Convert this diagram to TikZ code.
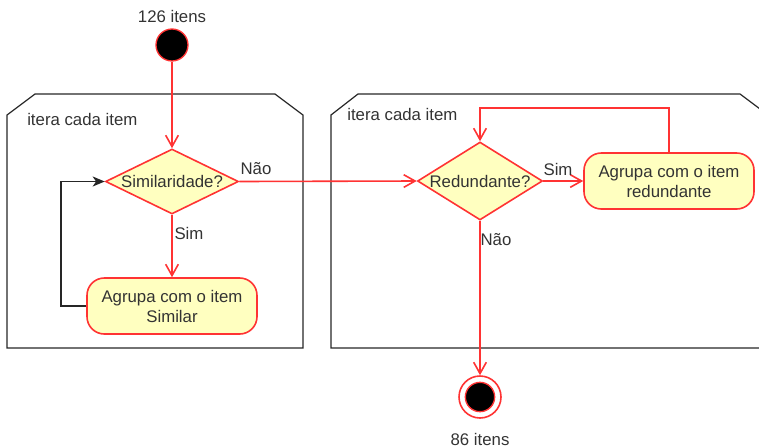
\documentclass[tikz,border=0pt]{standalone}
\usepackage{fontspec}
\setmainfont{Liberation Sans}
\usetikzlibrary{shapes.geometric,arrows.meta}
\definecolor{umlred}{HTML}{FF3333}
\definecolor{umlfill}{HTML}{FFFFC0}
\definecolor{txt}{HTML}{333333}
\tikzset{
  every node/.style={text=txt,font=\fontsize{12.6}{15}\selectfont},
  frame/.style={draw=black!85,line width=0.9pt},
  decision/.style={diamond,draw=umlred,fill=umlfill,line width=1.2pt,inner sep=0pt,aspect=1},
  action/.style={rectangle,draw=umlred,fill=umlfill,line width=1.2pt,rounded corners=13pt,
    minimum width=127.5pt,minimum height=42pt,align=center,inner sep=0pt},
  flow/.style={draw=umlred,line width=1.2pt,-{Straight Barb[length=8.5pt,width=9.5pt]}},
  back/.style={draw=black!85,line width=1.1pt,-{Stealth[length=9pt,width=7.5pt,inset=2.5pt]}},
  lbl/.style={inner sep=0pt}
}
\begin{document}
\begin{tikzpicture}[x=0.75pt,y=-0.75pt]
\useasboundingbox (0,0) rectangle (759,447);
\clip (0,0) rectangle (759,447);
% frames
\draw[frame] (7,115) -- (35,94) -- (275,94) -- (303,115) -- (303,348) -- (7,348) -- cycle;
\draw[frame] (331,115) -- (358,94) -- (740,94) -- (768,115) -- (768,348) -- (331,348) -- cycle;
\node[lbl,anchor=west] (f1) at (27,119) {itera cada item};
\node[lbl,anchor=west] (f2) at (347,114) {itera cada item};
% nodes
\node[circle,draw=umlred,fill=black,line width=1pt,minimum size=24pt,inner sep=0pt] (start) at (172,45) {};
\node[lbl] (t126) at (172,16) {126 itens};
\node[decision,minimum width=99.75pt,minimum height=48.75pt] (d1) at (172,181.5) {\makebox[0pt]{Similaridade?}};
\node[action] (b1) at (172,306) {Agrupa com o item\\Similar};
\node[decision,minimum width=93.75pt,minimum height=58.5pt] (d2) at (480,181) {\makebox[0pt]{Redundante?}};
\node[action] (b2) at (669,181) {Agrupa com o item\\redundante};
\node[circle,draw=umlred,line width=1.2pt,minimum size=31.5pt,inner sep=0pt,fill=white] (end) at (480,397) {};
\node[circle,draw=umlred,fill=black,line width=1pt,minimum size=22pt,inner sep=0pt] (endin) at (end) {};
\node[lbl] (t86) at (480,439) {86 itens};
% connectors
\draw[flow] (start) -- (d1.north);
\draw[flow] (d1.south) -- (b1.north);
\draw[back] (b1.west) -- ++(-25,0) |- (d1.west);
\draw[flow] (d1.east) -- (d2.west);
\draw[flow] (d2.east) -- (b2.west);
\draw[flow] (b2.north) -- ++(0,-44.5) -| (d2.north);
\draw[flow] (d2.south) -- (end.north);
% labels
\node[lbl] (n1) at (256,169) {Não};
\node[lbl] (s1) at (189,233) {Sim};
\node[lbl] (s2) at (558,169) {Sim};
\node[lbl] (n2) at (496,240) {Não};
\end{tikzpicture}
\end{document}
